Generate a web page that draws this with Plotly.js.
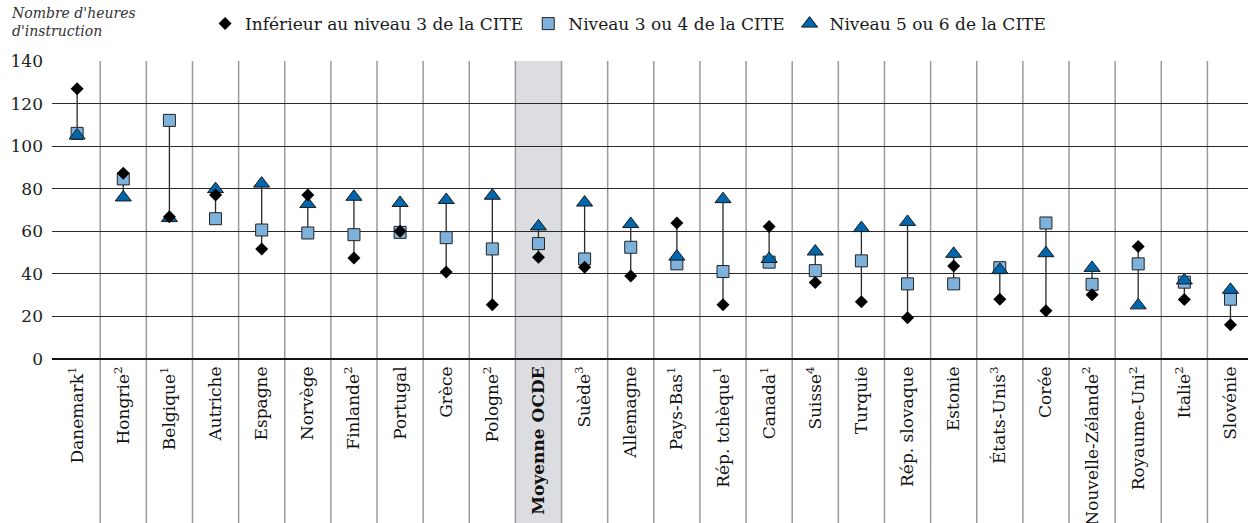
<!DOCTYPE html>
<html>
<head>
<meta charset="utf-8">
<script src="https://cdn.plot.ly/plotly-3.0.1.min.js"></script>
<style>html,body{margin:0;padding:0;background:#fff;}#chart{width:1248px;height:523px;}</style>
</head>
<body>
<div id="chart"></div>
<script>
var categories = ["Danemark<sup>1</sup>", "Hongrie<sup>2</sup>", "Belgique<sup>1</sup>", "Autriche", "Espagne", "Norvège", "Finlande<sup>2</sup>", "Portugal", "Grèce", "Pologne<sup>2</sup>", "<b>Moyenne OCDE</b>", "Suède<sup>3</sup>", "Allemagne", "Pays-Bas<sup>1</sup>", "Rép. tchèque<sup>1</sup>", "Canada<sup>1</sup>", "Suisse<sup>4</sup>", "Turquie", "Rép. slovaque", "Estonie", "États-Unis<sup>3</sup>", "Corée", "Nouvelle-Zélande<sup>2</sup>", "Royaume-Uni<sup>2</sup>", "Italie<sup>2</sup>", "Slovénie"];
var belowLevel3 = [127, 87.3, 66.8, 77, 51.7, 77, 47.5, 60, 40.9, 25.5, 47.8, 43.1, 39, 63.9, 25.5, 62.2, 35.9, 26.9, 19.4, 43.7, 28.1, 22.7, 30.2, 52.9, 28, 16.1];
var level3or4 = [106, 84.6, 112.1, 65.9, 60.6, 59.2, 58.4, 59.5, 57, 51.7, 54.2, 47, 52.5, 44.7, 41.1, 45.5, 41.5, 46.1, 35.3, 35.3, 42.9, 63.9, 35.1, 44.7, 36.1, 28.1];
var level5or6 = [105, 75.9, 66.2, 79.8, 82.4, 72.8, 76.2, 73.3, 74.7, 76.7, 62.3, 73.5, 63.4, 48.1, 75.1, 47, 50.5, 61.5, 64.4, 49.4, 41.9, 49.7, 42.8, 25.2, 36.9, 32.5];
var seriesNames = ["Inférieur au niveau 3 de la CITE", "Niveau 3 ou 4 de la CITE", "Niveau 5 ou 6 de la CITE"];
var highlight = "<b>Moyenne OCDE</b>";

var FONT = "DejaVu Serif, Liberation Serif, serif";

// connecting lines min-max
var lx = [], ly = [];
categories.forEach(function(c, i) {
  var vals = [belowLevel3[i], level3or4[i], level5or6[i]];
  lx.push(c, c, null);
  ly.push(Math.min.apply(null, vals), Math.max.apply(null, vals), null);
});

var traces = [
  {type: "scatter", mode: "lines", x: lx, y: ly, showlegend: false, hoverinfo: "skip",
   line: {color: "#2a2a2a", width: 1.3}},
  {type: "scatter", mode: "markers", name: seriesNames[1], x: categories, y: level3or4, legendrank: 2,
   marker: {symbol: "square", size: 12, color: "#7fb2db", line: {color: "#222", width: 1}}},
  {type: "scatter", mode: "markers", name: seriesNames[2], x: categories, y: level5or6, legendrank: 3,
   marker: {symbol: "triangle-up", size: 14, color: "#0066ad", line: {color: "#1a1a1a", width: 1}}},
  {type: "scatter", mode: "markers", name: seriesNames[0], x: categories, y: belowLevel3, legendrank: 1,
   marker: {symbol: "diamond", size: 10, color: "#000", line: {color: "#000", width: 0}}}
];

var hi = categories.indexOf(highlight);
var shapes = [{type: "rect", xref: "x", yref: "paper", x0: hi - 0.5, x1: hi + 0.5, y0: -0.56, y1: 1,
  fillcolor: "#dcdde0", line: {width: 0}, layer: "below"}];
for (var k = 0; k < categories.length - 1; k++) {
  shapes.push({type: "line", xref: "x", yref: "paper", x0: k + 0.5, x1: k + 0.5, y0: -0.56, y1: 1,
    line: {color: "#9a9a9a", width: 1.5}, layer: "below"});
}

var layout = {
  width: 1248, height: 523,
  margin: {l: 52, r: 0, t: 61, b: 164, pad: 0},
  paper_bgcolor: "#fff", plot_bgcolor: "rgba(0,0,0,0)",
  font: {family: FONT, color: "#1a1a1a"},
  xaxis: {type: "category", range: [-0.545, 25.38], showgrid: false, zeroline: false, showline: false,
    ticks: "", tickangle: -90, tickfont: {family: FONT, size: 17, color: "#111"}, ticklabelstandoff: 3, fixedrange: true},
  yaxis: {range: [0, 140], dtick: 20, showgrid: true, gridcolor: "#2a2a2a", gridwidth: 1,
    zeroline: true, zerolinecolor: "#111", zerolinewidth: 1.2, showline: false, ticks: "",
    tickfont: {family: FONT, size: 17, color: "#222"}, ticklabelstandoff: 8, fixedrange: true},
  legend: {orientation: "h", x: 0.128, xanchor: "left", y: 1.124, yanchor: "middle",
    font: {family: FONT, size: 17, color: "#1a1a1a"}, bgcolor: "rgba(0,0,0,0)", traceorder: "normal"},
  showlegend: true,
  shapes: shapes,
  annotations: [{xref: "paper", yref: "paper", x: -0.036, y: 1.195, xanchor: "left", yanchor: "top", align: "left",
    showarrow: false, text: "<i>Nombre d'heures<br>d'instruction</i>",
    font: {family: FONT, size: 14, color: "#333"}}]
};

Plotly.newPlot("chart", traces, layout, {displayModeBar: false, staticPlot: true});
</script>
</body>
</html>
